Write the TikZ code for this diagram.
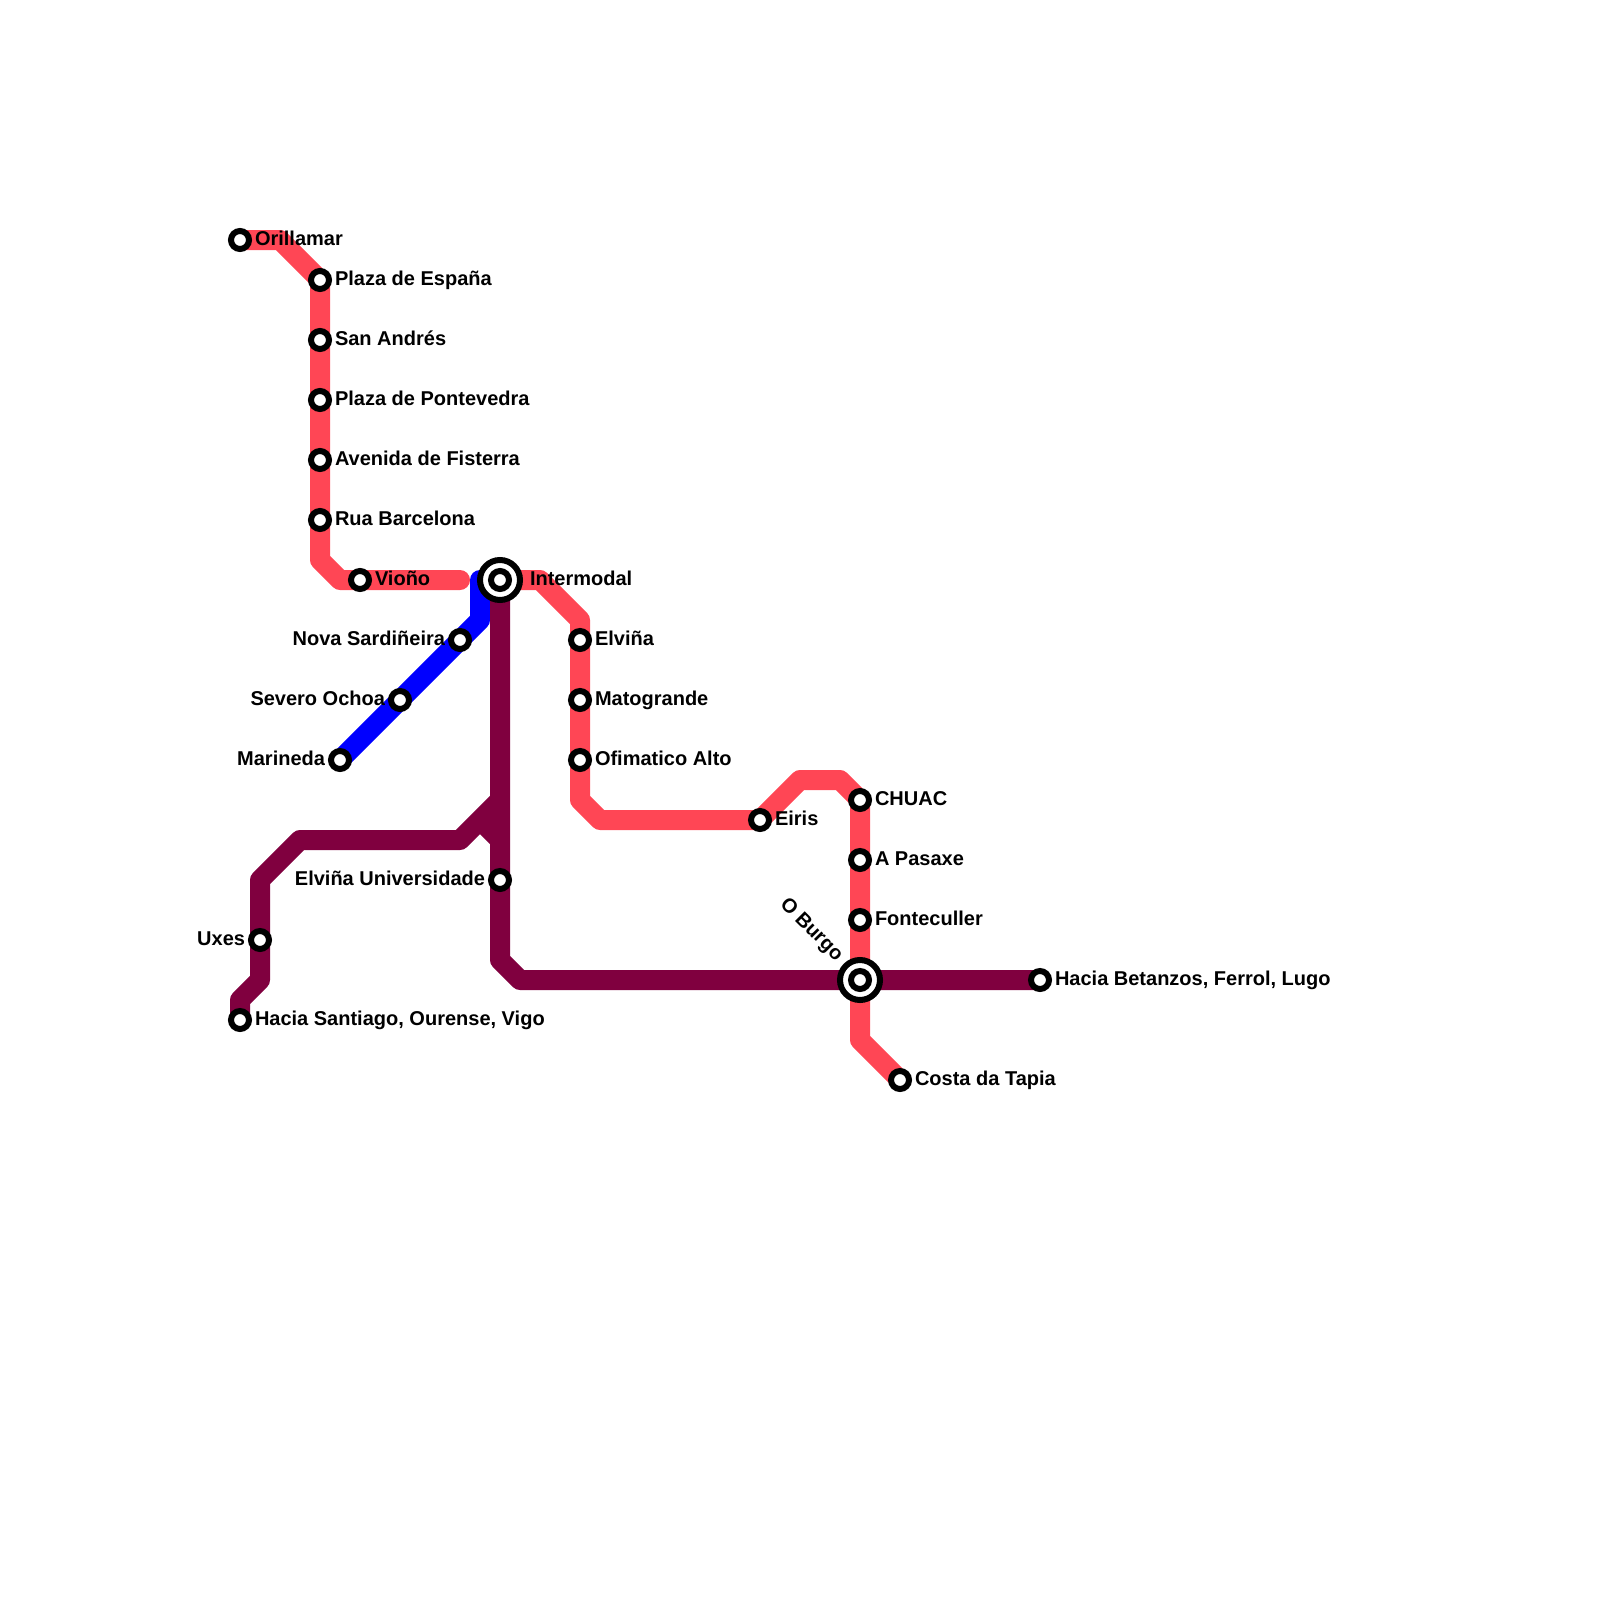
\documentclass[tikz,border=0pt]{standalone}
\usepackage{fontspec}
\setmainfont{Liberation Sans}
\definecolor{redline}{HTML}{FF4655}
\definecolor{blueline}{HTML}{0000FF}
\definecolor{purpleline}{HTML}{80003F}
\tikzset{
  metro/.style={line width=20pt,line join=round,line cap=round},
  stn/.style={circle,draw=black,fill=white,line width=6pt,minimum size=18pt,inner sep=0pt,outer sep=0pt},
  hub/.style={circle,draw=black,fill=white,line width=6pt,minimum size=40pt,inner sep=0pt,outer sep=0pt},
  lab/.style={font=\fontsize{20}{22}\selectfont\bfseries,text=black,inner sep=0pt,outer sep=0pt},
  labr/.style={lab,anchor=base west},
  labl/.style={lab,anchor=base east}
}
\begin{document}
\begin{tikzpicture}[x=1pt,y=-1pt]
\useasboundingbox (0,0) rectangle (1600,1600);
\coordinate (orillamar) at (240,240);
\coordinate (espana) at (320,280);
\coordinate (andres) at (320,340);
\coordinate (pontevedra) at (320,400);
\coordinate (fisterra) at (320,460);
\coordinate (barcelona) at (320,520);
\coordinate (viono) at (360,580);
\coordinate (intermodal) at (500,580);
\coordinate (elvina) at (580,640);
\coordinate (matogrande) at (580,700);
\coordinate (ofimatico) at (580,760);
\coordinate (eiris) at (760,820);
\coordinate (chuac) at (860,800);
\coordinate (pasaxe) at (860,860);
\coordinate (fonteculler) at (860,920);
\coordinate (burgo) at (860,980);
\coordinate (tapia) at (900,1080);
\coordinate (betanzos) at (1040,980);
\coordinate (univ) at (500,880);
\coordinate (uxes) at (260,940);
\coordinate (santiago) at (240,1020);
\coordinate (nova) at (460,640);
\coordinate (severo) at (400,700);
\coordinate (marineda) at (340,760);
\draw[metro,blueline] (480,580) -- (480,620) -- (nova) -- (severo) -- (marineda);
\draw[metro,redline] (orillamar) -- (280,240) -- (espana) -- (andres) -- (pontevedra) -- (fisterra) -- (barcelona) -- (320,560) -- (340,580) -- (viono) -- (460,580);
\draw[metro,redline] (intermodal) -- (540,580) -- (580,620) -- (elvina) -- (matogrande) -- (ofimatico) -- (580,800) -- (600,820) -- (eiris) -- (800,780) -- (840,780) -- (chuac) -- (pasaxe) -- (fonteculler) -- (burgo) -- (860,1040) -- (tapia);
\draw[metro,purpleline,line cap=butt] (santiago) -- (240,1000) -- (260,980) -- (uxes) -- (260,880) -- (300,840) -- (460,840) -- (500,800);
\draw[metro,purpleline,line cap=butt] (480,820) -- (500,840);
\draw[metro,purpleline,line cap=butt] (intermodal) -- (univ) -- (500,960) -- (520,980) -- (burgo) -- (betanzos);
\foreach \s in {orillamar,espana,andres,pontevedra,fisterra,barcelona,viono,elvina,matogrande,ofimatico,eiris,chuac,pasaxe,fonteculler,tapia,betanzos,univ,uxes,santiago,nova,severo,marineda}
  \node[stn] (n\s) at (\s) {};
\node[hub] (hintermodal) at (intermodal) {};
\node[stn] (nintermodal) at (intermodal) {};
\node[hub] (hburgo) at (burgo) {};
\node[stn] (nburgo) at (burgo) {};
\node[labr] (torillamar) at (255,245) {Orillamar};
\node[labr] (tespana) at (335,285) {Plaza de España};
\node[labr] (tandres) at (335,345) {San Andrés};
\node[labr] (tpontevedra) at (335,405) {Plaza de Pontevedra};
\node[labr] (tfisterra) at (335,465) {Avenida de Fisterra};
\node[labr] (tbarcelona) at (335,525) {Rua Barcelona};
\node[labr] (tviono) at (375,585) {Vioño};
\node[labr] (tintermodal) at (530,585) {Intermodal};
\node[labr] (telvina) at (595,645) {Elviña};
\node[labr] (tmatogrande) at (595,705) {Matogrande};
\node[labr] (tofimatico) at (595,765) {Ofimatico Alto};
\node[labr] (teiris) at (775,825) {Eiris};
\node[labr] (tchuac) at (875,805) {CHUAC};
\node[labr] (tpasaxe) at (875,865) {A Pasaxe};
\node[labr] (tfonteculler) at (875,925) {Fonteculler};
\node[labr] (ttapia) at (915,1085) {Costa da Tapia};
\node[labr] (tbetanzos) at (1055,985) {Hacia Betanzos, Ferrol, Lugo};
\node[labr] (tsantiago) at (255,1025) {Hacia Santiago, Ourense, Vigo};
\node[labl] (tuxes) at (245,945) {Uxes};
\node[labl] (tuniv) at (485,885) {Elviña Universidade};
\node[labl] (tnova) at (445,645) {Nova Sardiñeira};
\node[labl] (tsevero) at (385,705) {Severo Ochoa};
\node[labl] (tmarineda) at (325,765) {Marineda};
\node[lab,rotate=-45] (tburgo) at (811,930) {O Burgo};
\end{tikzpicture}
\end{document}
